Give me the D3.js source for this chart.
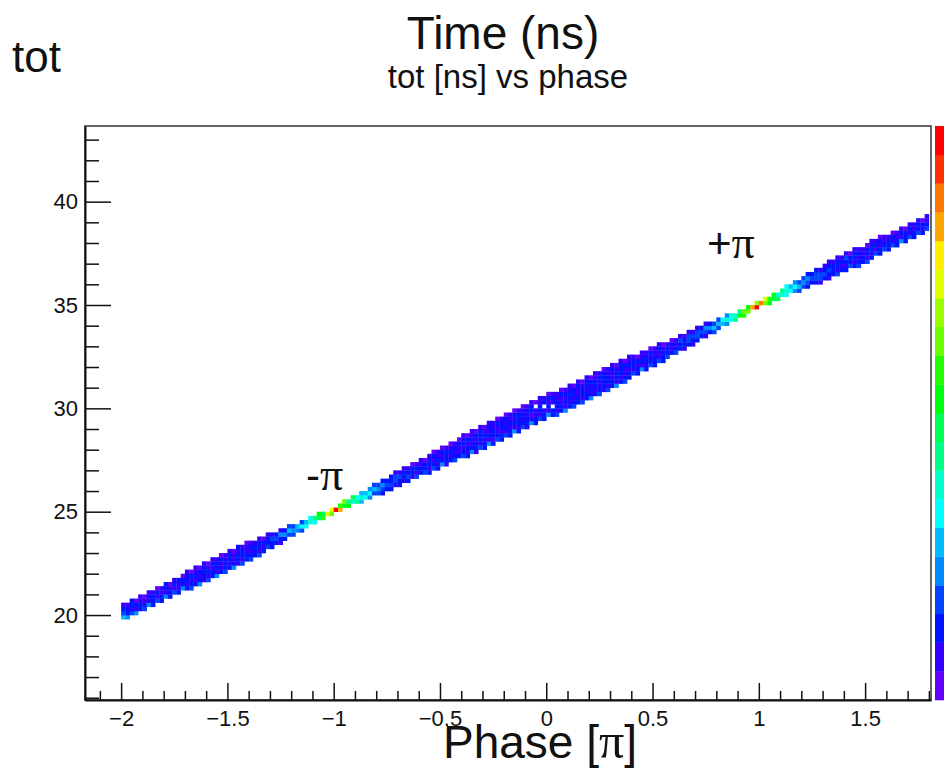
<!DOCTYPE html>
<html>
<head>
<meta charset="utf-8">
<script src="https://cdn.jsdelivr.net/npm/d3@7"></script>
<style>
  body { margin: 0; background: #fff; }
  svg { display: block; }
  text { font-family: "Liberation Sans", Arial, Helvetica, sans-serif; fill: #111; }
  .pi { font-family: "Liberation Serif", "Times New Roman", serif; }
</style>
</head>
<body>
<svg id="chart" width="944" height="771"></svg>
<script>
// 2D histogram of tot versus phase.
// Phase bins are 0.02 (in units of pi) wide starting at -2, tot bins are 0.2 ns tall starting at 16 ns.
const phaseStart = -2.0;
const phaseStep = 0.02;
const totStart = 16.0;
const totStep = 0.2;

// One entry per phase bin: "firstTotBin:levels", listed from the lowest tot bin upwards.
// Level characters 0-9 then a-j give the 20 colour levels; "." is an empty bin.
const columns = [
  "19:5321","19:4221","20:3122","20:4120","21:2211","21:3210","22:4121","22:2221","23:3120","23:2211",
  "24:4122","24:2210","25:3121","25:2112","26:4220","26:21221","26:32120","27:21211","27:42120","28:12221",
  "28:31210","29:22121","29:41221","30:21120","30:32211","31:21221","31:42110","32:12212","32:31221","33:22110",
  "33:32121","34:2221","34:31221","35:2120","36:3221","36:2231","37:232","37:1241","38:242","39:353",
  "39:343","40:45","40:363","41:65","42:76","42:68","43:9a","43:b9","44:e","44:ce",
  "45:j","45:gb","46:ac","46:a8","47:79","47:86","47:575","48:65","48:464","49:353",
  "49:343","49:2342","50:232","50:2322","51:1331","51:2231","52:1221","52:2321","53:1220","53:3121",
  "54:2211","54:3220","54:21221","55:32120","55:21211","56:42120","56:12221","57:21210","57:32121","58:21120",
  "58:321221","58:212120","59:421211","59:122120","60:312221","60:221210","61:412121","61:212211","62:321120","62:221221",
  "63:312120","63:221211","64:412120","64:212221","65:321210","65:122121","66:411221","66:2211.0","67:312211","67:221.21",
  "68:412120","68:22.121","68:312211","69:221120","69:412121","70:212211","70:321220","71:221121","71:312210","72:221221",
  "72:412120","73:212211","73:321121","74:122220","74:312211","75:221121","75:412210","76:212221","76:321120","77:221211",
  "78:31221","78:22120","79:41211","79:21221","80:32120","80:22211","81:31121","81:22210","82:3221","83:2120",
  "83:3211","84:2231","84:1221","85:2331","85:1231","86:2331","87:232","87:1341","88:242","88:353",
  "89:353","90:56","90:474","91:67","91:87","92:a8","92:bc","93:ca","94:g","94:jd",
  "95:h","95:ce","95:ab","96:9a","96:97","97:78","97:676","98:65","98:464","98:353",
  "99:343","99:2342","100:232","100:2332","100:1331","101:2321","101:12321","102:2221","102:31221","103:2121",
  "103:21231","104:3220","104:21221","104:32121","105:2211","105:31220","106:21221","107:3121","107:22120","108:3211",
  "108:2221","109:3120","109:2211","110:4121","110:2220","111:3121","111:2211","112:3221","112:2120","113:3211"
];

const xTicks = [-2, -1.5, -1, -0.5, 0, 0.5, 1, 1.5];
const xTickLabels = ["\u22122", "\u22121.5", "\u22121", "\u22120.5", "0", "0.5", "1", "1.5"];
const yTicks = [20, 25, 30, 35, 40];
const yTickLabels = ["20", "25", "30", "35", "40"];
const nLevels = 20;

const phaseDomain = [-2.17, 1.81];
const totDomain = [15.89, 43.66];

const svg = d3.select("#chart");
const plot = { left: 85, right: 931, top: 126, bottom: 700 };

const x = d3.scaleLinear().domain(phaseDomain).range([plot.left, plot.right]);
const y = d3.scaleLinear().domain(totDomain).range([plot.bottom, plot.top]);

// Rainbow palette: 50 hues from violet to red, 20 contour levels picked from it
function levelColor(level) {
  const k = Math.floor((level + 0.99) * 50 / nLevels);
  const hue = 280 - (k + 1) * 5.6;
  return d3.hsl(hue, 1, 0.5).formatHex();
}
const levelChars = "0123456789abcdefghij";

// expand the column strings into cells
const cells = [];
columns.forEach((col, i) => {
  const [startStr, levels] = col.split(":");
  const start = +startStr;
  const p0 = +(phaseStart + i * phaseStep).toFixed(4);
  [...levels].forEach((ch, j) => {
    if (ch === ".") return;
    const t0 = +(totStart + (start + j) * totStep).toFixed(4);
    cells.push({ p0, p1: +(p0 + phaseStep).toFixed(4), t0, t1: +(t0 + totStep).toFixed(4), level: levelChars.indexOf(ch) });
  });
});

svg.append("defs").append("clipPath").attr("id", "plotClip")
  .append("rect")
  .attr("x", plot.left).attr("y", plot.top)
  .attr("width", plot.right - plot.left).attr("height", plot.bottom - plot.top);

svg.append("g").attr("clip-path", "url(#plotClip)")
  .selectAll("rect").data(cells).join("rect")
  .attr("x", d => x(d.p0))
  .attr("y", d => y(d.t1))
  .attr("width", d => x(d.p1) - x(d.p0) + 0.3)
  .attr("height", d => y(d.t0) - y(d.t1) + 0.3)
  .attr("fill", d => levelColor(d.level));

// palette bar on the right
const zBar = d3.scaleLinear().domain([0, nLevels]).range([plot.bottom, plot.top]);
svg.append("g").selectAll("rect").data(d3.range(nLevels)).join("rect")
  .attr("x", 935)
  .attr("y", d => zBar(d + 1))
  .attr("width", 20)
  .attr("height", d => zBar(d) - zBar(d + 1) + 0.3)
  .attr("fill", d => levelColor(d));

// frame
svg.append("rect")
  .attr("x", plot.left).attr("y", plot.top)
  .attr("width", plot.right - plot.left).attr("height", plot.bottom - plot.top)
  .attr("fill", "none").attr("stroke", "#333").attr("stroke-width", 1.5);

// axes: ticks point into the frame
const xMinor = d3.range(-21, 19).map(v => v / 10).filter(v => !xTicks.some(t => Math.abs(t - v) < 1e-9));
const yMinor = d3.range(16, 44).filter(v => !yTicks.includes(v));

svg.append("g").attr("transform", `translate(0,${plot.bottom})`)
  .call(d3.axisBottom(x).tickValues(xTicks).tickFormat((d, i) => xTickLabels[i])
    .tickSizeInner(-17).tickSizeOuter(0).tickPadding(10));
svg.append("g").attr("transform", `translate(0,${plot.bottom})`)
  .call(d3.axisBottom(x).tickValues(xMinor).tickFormat("").tickSizeInner(-9).tickSizeOuter(0))
  .call(g => g.select(".domain").remove());

svg.append("g").attr("transform", `translate(${plot.left},0)`)
  .call(d3.axisLeft(y).tickValues(yTicks).tickFormat((d, i) => yTickLabels[i])
    .tickSizeInner(-26).tickSizeOuter(0).tickPadding(7));
svg.append("g").attr("transform", `translate(${plot.left},0)`)
  .call(d3.axisLeft(y).tickValues(yMinor).tickFormat("").tickSizeInner(-14).tickSizeOuter(0))
  .call(g => g.select(".domain").remove());

svg.selectAll(".domain").attr("stroke", "#111").attr("stroke-width", 2);
svg.selectAll(".tick line").attr("stroke", "#111").attr("stroke-width", 1.5);
svg.selectAll(".tick text").attr("font-size", 22).attr("fill", "#222")
  .attr("font-family", "'Liberation Sans', Arial, sans-serif");

// titles and labels
svg.append("text").attr("x", 12).attr("y", 72).attr("font-size", 44).text("tot");
svg.append("text").attr("x", 503).attr("y", 49).attr("font-size", 46)
  .attr("text-anchor", "middle").text("Time (ns)");
svg.append("text").attr("x", 508).attr("y", 88).attr("font-size", 33)
  .attr("text-anchor", "middle").text("tot [ns] vs phase");

const xLabel = svg.append("text").attr("x", 443).attr("y", 758).attr("font-size", 46);
xLabel.append("tspan").text("Phase [");
xLabel.append("tspan").attr("class", "pi").attr("font-size", 50).text("\u03c0");
xLabel.append("tspan").text("]");

const minusPi = svg.append("text").attr("x", 306).attr("y", 490).attr("font-size", 42);
minusPi.append("tspan").text("-");
minusPi.append("tspan").attr("class", "pi").attr("font-size", 46).text("\u03c0");

const plusPi = svg.append("text").attr("x", 707).attr("y", 258).attr("font-size", 42);
plusPi.append("tspan").text("+");
plusPi.append("tspan").attr("class", "pi").attr("font-size", 46).text("\u03c0");
</script>
</body>
</html>
